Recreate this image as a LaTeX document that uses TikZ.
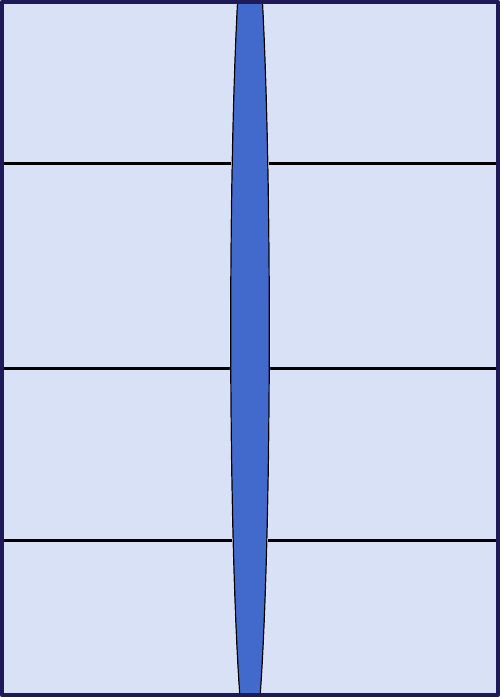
\documentclass[tikz,border=0pt]{standalone}
\usepackage{xcolor}
\usetikzlibrary{arrows.meta}
\definecolor{paneblue}{RGB}{217,225,247}
\definecolor{lensblue}{RGB}{66,105,204}
\definecolor{framenavy}{RGB}{30,26,88}

\begin{document}
\begin{tikzpicture}[x=1pt, y=-1pt, line cap=round, line join=round,
    pane/.style={fill=paneblue, draw=white, line width=1pt},
    rule/.style={draw=black, line width=3pt, line cap=butt},
    lens/.style={fill=lensblue, draw=black, line width=1.2pt}]

\useasboundingbox (0,0) rectangle (500,697);

% Pannelli
\foreach \ya/\yb in {3/163, 163/368, 368/540, 540/694}{
  \draw[pane] (3.5,\ya) rectangle (248,\yb);
  \draw[pane] (252,\ya) rectangle (496.5,\yb);
}

% Separatori
\foreach \yy in {163, 368, 540}
  \draw[rule] (3,\yy) -- (497,\yy);

% Lente centrale
\coordinate (lc) at (250,330);
\begin{scope}
  \clip (0,0) rectangle (500,697);
  \draw[white, line width=2pt] (lc) ellipse [x radius=19.3, y radius=430];
  \draw[lens] (lc) ellipse [x radius=19.3, y radius=430];
\end{scope}

% Cornice
\draw[draw=framenavy, line width=3.8pt] (1.9,1.9) rectangle (498.1,695.1);

\end{tikzpicture}
\end{document}
